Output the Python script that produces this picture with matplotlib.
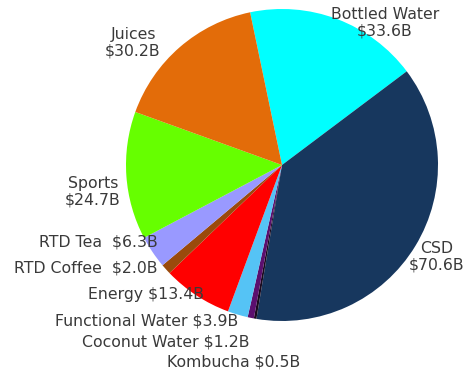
import matplotlib
matplotlib.use("Agg")
import matplotlib.pyplot as plt

categories = ["Bottled Water", "CSD", "Kombucha", "Coconut Water", "Functional Water",
              "Energy", "RTD Coffee", "RTD Tea", "Sports", "Juices"]
values = [33.6, 70.6, 0.5, 1.2, 3.9, 13.4, 2.0, 6.3, 24.7, 30.2]
colors = ["#00FFFF", "#17375E", "#1A0A1E", "#5B0F6E", "#55C3F5",
          "#FF0000", "#9A4A0C", "#9999FF", "#66FF00", "#E36C09"]

W, H = 467, 375
CX, CY, R = 282, 165, 156

fig = plt.figure(figsize=(W / 100, H / 100), dpi=100)
ax = fig.add_axes([0, 0, 1, 1])
ax.pie(values, colors=colors, startangle=101.8, counterclock=False, radius=1,
       wedgeprops=dict(linewidth=0))
ax.set_xlim(-CX / R, (W - CX) / R)
ax.set_ylim(-(H - CY) / R, CY / R)
ax.set_aspect("equal", adjustable="box")
ax.axis("off")


def P(px, py):
    return (px - CX) / R, (CY - py) / R


tc = "#3a3a3a"
fs = 11.3
fam = "DejaVu Sans"


def lab(name, val, px, py, ha="center", sep="\n"):
    ax.text(*P(px, py), f"{name}{sep}${val}B", ha=ha, va="center",
            fontsize=fs, color=tc, family=fam, linespacing=1.15)


d = dict(zip(categories, values))
lab("Bottled Water", d["Bottled Water"], 385, 23)
lab("Juices", d["Juices"], 133, 43)
lab("Sports", d["Sports"], 93, 192)
lab("CSD", d["CSD"], 437, 257)
lab("RTD Tea", d["RTD Tea"], 158, 242, ha="right", sep="  ")
lab("RTD Coffee", d["RTD Coffee"], 158, 268, ha="right", sep="  ")
lab("Energy", d["Energy"], 204, 295, ha="right", sep=" ")
lab("Functional Water", d["Functional Water"], 238, 321, ha="right", sep=" ")
lab("Coconut Water", d["Coconut Water"], 250, 342, ha="right", sep=" ")
lab("Kombucha", d["Kombucha"], 300, 362, ha="right", sep=" ")

fig.savefig("out.png", dpi=100)
